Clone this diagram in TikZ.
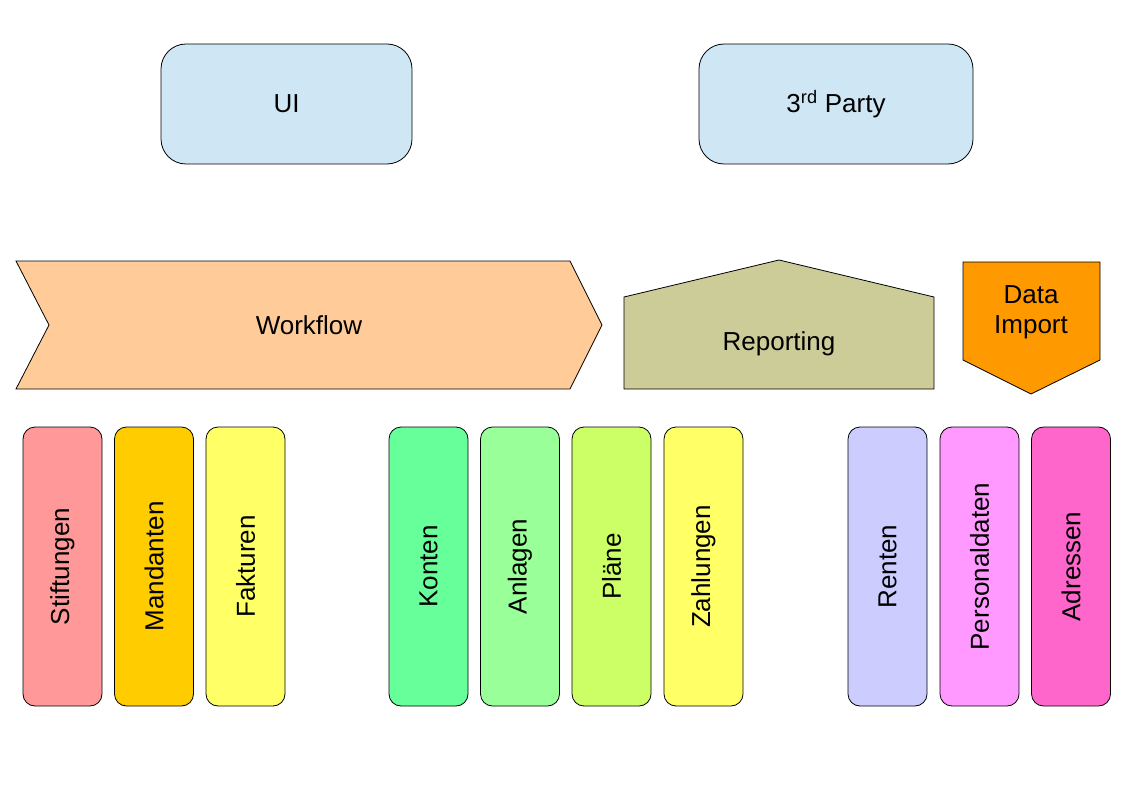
\documentclass[tikz,border=0pt]{standalone}
\usepackage{fontspec}
\setmainfont{Liberation Sans}
\usepackage{xcolor}
\definecolor{uiblue}{HTML}{CFE7F5}
\definecolor{workflowcol}{HTML}{FFCC99}
\definecolor{reportcol}{HTML}{CCCC99}
\definecolor{importcol}{HTML}{FF9900}
\definecolor{stiftcol}{HTML}{FF9999}
\definecolor{mandcol}{HTML}{FFCC00}
\definecolor{faktcol}{HTML}{FFFF66}
\definecolor{kontcol}{HTML}{66FF99}
\definecolor{anlcol}{HTML}{99FF99}
\definecolor{plancol}{HTML}{CCFF66}
\definecolor{zahlcol}{HTML}{FFFF66}
\definecolor{rentcol}{HTML}{CCCCFF}
\definecolor{perscol}{HTML}{FF99FF}
\definecolor{adrcol}{HTML}{FF66CC}

\begin{document}
\begin{tikzpicture}[x=1pt, y=-1pt, font=\fontsize{26}{30}\selectfont,
  topbox/.style={draw, line width=0.8pt, rounded corners=25pt, fill=uiblue, minimum height=120pt, inner sep=0pt},
  databar/.style={draw, line width=0.8pt, rounded corners=12pt, rotate=90, minimum width=279pt, minimum height=79pt, inner sep=0pt}]
  \useasboundingbox (0,0) rectangle (1123,794);
  % top boxes
  \node[topbox, minimum width=251pt] (ui) at (286.5,104) {UI};
  \node[topbox, minimum width=274pt] (party) at (836,104) {3\textsuperscript{rd} Party};
  % workflow chevron
  \draw[fill=workflowcol, line width=0.8pt] (16,261) -- (570,261) -- (602,325) -- (570,389) -- (16,389) -- (49,325) -- cycle;
  \node (workflow) at (309,325) {Workflow};
  % reporting house
  \draw[fill=reportcol, line width=0.8pt] (624,389) -- (624,297) -- (779,260) -- (934,297) -- (934,389) -- cycle;
  \node (reporting) at (779,344) {Reporting};
  % data import pentagon
  \draw[fill=importcol, line width=0.8pt] (963,262) -- (1100,262) -- (1100,360) -- (1031,394) -- (963,360) -- cycle;
  \node[align=center] (import) at (1031,312) {Data\\Import};
  % data bars
  \foreach \x/\name/\col/\txt in {62.5/stift/stiftcol/Stiftungen, 154/mand/mandcol/Mandanten, 245.5/fakt/faktcol/Fakturen,
    428.5/kont/kontcol/Konten, 520/anl/anlcol/Anlagen, 611.5/plan/plancol/Pläne, 703.5/zahl/zahlcol/Zahlungen,
    887.5/rent/rentcol/Renten, 979.5/pers/perscol/Personaldaten, 1071/adr/adrcol/Adressen}
    \node[databar, fill=\col] (\name) at (\x,566.5) {\txt};
\end{tikzpicture}
\end{document}
